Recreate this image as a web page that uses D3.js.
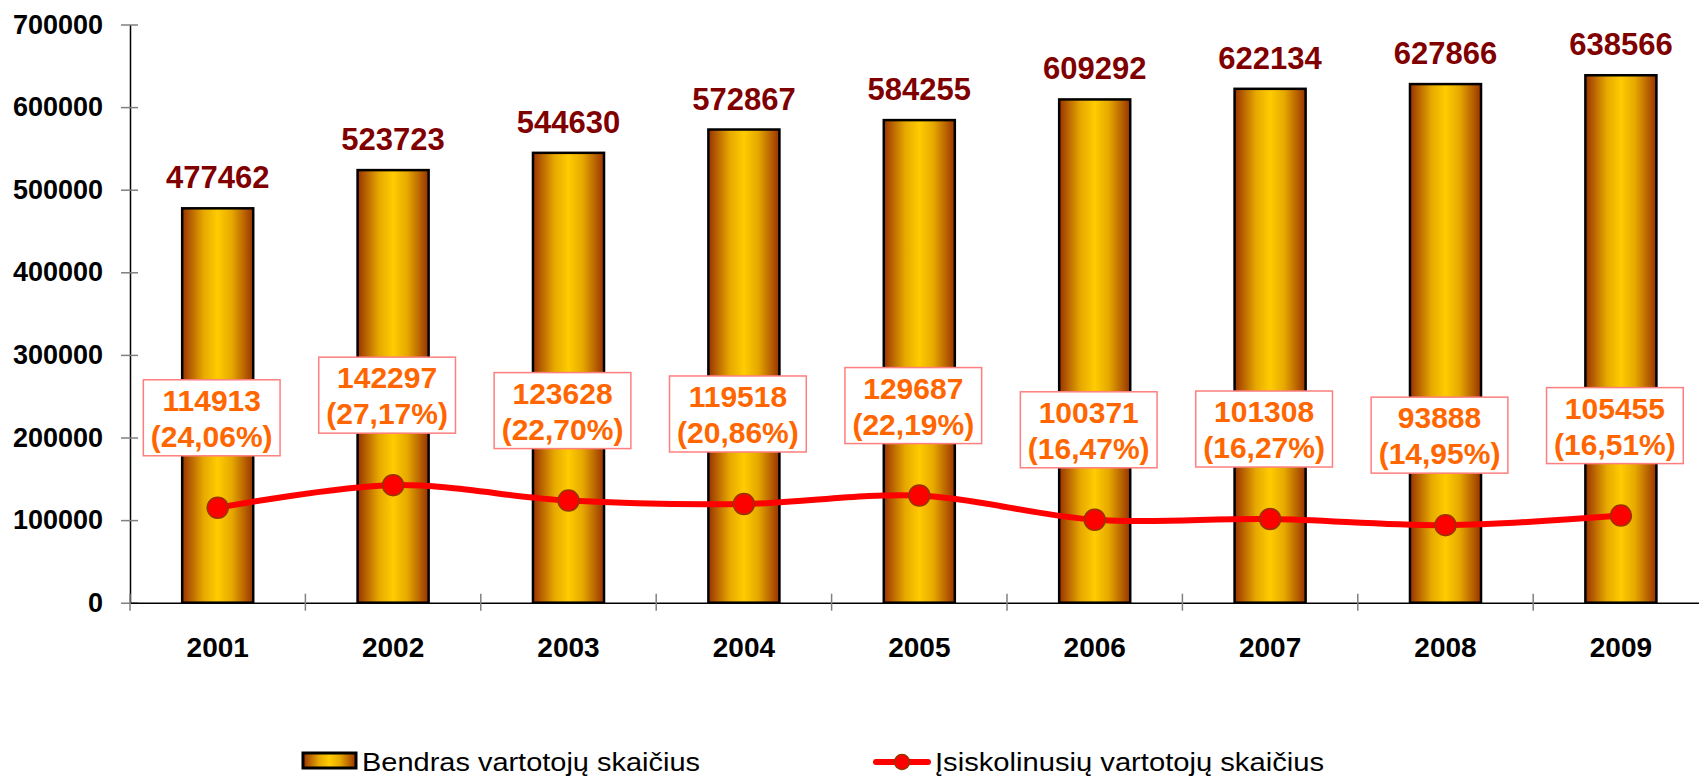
<!DOCTYPE html>
<html>
<head>
<meta charset="utf-8">
<script src="https://cdn.jsdelivr.net/npm/d3@7"></script>
<style>
  body { margin: 0; background: #fff; }
  svg { display: block; font-family: "Liberation Sans", Arial, sans-serif; }
</style>
</head>
<body>
<svg width="1699" height="777"></svg>
<script>
var years = ["2001", "2002", "2003", "2004", "2005", "2006", "2007", "2008", "2009"];
var totalUsers = [477462, 523723, 544630, 572867, 584255, 609292, 622134, 627866, 638566];
var debtUsers = [114913, 142297, 123628, 119518, 129687, 100371, 101308, 93888, 105455];
var debtShare = ["24,06%", "27,17%", "22,70%", "20,86%", "22,19%", "16,47%", "16,27%", "14,95%", "16,51%"];
var yTicks = [0, 100000, 200000, 300000, 400000, 500000, 600000, 700000];
var seriesNames = ["Bendras vartotojų skaičius", "Įsiskolinusių vartotojų skaičius"];

var svg = d3.select("svg");

var data = years.map(function(y, i) {
    return { year: y, total: totalUsers[i], debt: debtUsers[i], share: debtShare[i] };
});

var x = d3.scaleBand().domain(years).range([130, 1708.6]).paddingInner(0.595).paddingOuter(0.2975),
    y = d3.scaleLinear().domain([0, 700000]).range([602.7, 24.5]);

// gradient for the bars
var grad = svg.append("defs").append("linearGradient")
    .attr("id", "barGrad").attr("x1", "0%").attr("x2", "100%").attr("y1", "0%").attr("y2", "0%");
grad.append("stop").attr("offset", "0%").attr("stop-color", "#993300");
grad.append("stop").attr("offset", "30%").attr("stop-color", "#e6a800");
grad.append("stop").attr("offset", "50%").attr("stop-color", "#ffcc00");
grad.append("stop").attr("offset", "70%").attr("stop-color", "#e6a800");
grad.append("stop").attr("offset", "100%").attr("stop-color", "#993300");

// y axis
var yAxis = svg.append("g")
    .attr("transform", "translate(130,0)")
    .call(d3.axisLeft(y).tickValues(yTicks).tickSize(9).tickSizeOuter(0).tickPadding(18).tickFormat(d3.format("d")));
yAxis.select(".domain").attr("stroke", "#000").attr("stroke-width", 1.5);
yAxis.selectAll(".tick line").attr("x1", -9).attr("x2", 8).attr("stroke", "#808080").attr("stroke-width", 1.5);
yAxis.selectAll(".tick text").attr("font-size", "27px").attr("font-weight", "bold").attr("fill", "#000");

// x axis
var xAxis = svg.append("g")
    .attr("transform", "translate(0," + y(0) + ")")
    .call(d3.axisBottom(x).tickSize(0).tickSizeOuter(0).tickPadding(34));
xAxis.select(".domain").attr("stroke", "#000").attr("stroke-width", 1.5);
xAxis.selectAll(".tick text").attr("font-size", "28px").attr("font-weight", "bold").attr("fill", "#000");

var bounds = years.map(function(d) { return x(d) + x.bandwidth() / 2 - x.step() / 2; });
bounds.push(bounds[bounds.length - 1] + x.step());
xAxis.selectAll(".sep")
    .data(bounds)
    .enter().append("line")
    .attr("x1", function(d) { return d; })
    .attr("x2", function(d) { return d; })
    .attr("y1", -9).attr("y2", 8)
    .attr("stroke", "#808080").attr("stroke-width", 1.5);

// bars
svg.selectAll(".bar")
    .data(data)
    .enter().append("rect")
    .attr("class", "bar")
    .attr("x", function(d) { return x(d.year); })
    .attr("y", function(d) { return y(d.total); })
    .attr("width", x.bandwidth())
    .attr("height", function(d) { return y(0) - y(d.total); })
    .attr("fill", "url(#barGrad)")
    .attr("stroke", "#000")
    .attr("stroke-width", 2.5);

svg.selectAll(".barLabel")
    .data(data)
    .enter().append("text")
    .attr("class", "barLabel")
    .attr("x", function(d) { return x(d.year) + x.bandwidth() / 2; })
    .attr("y", function(d) { return y(d.total) - 20; })
    .attr("text-anchor", "middle")
    .attr("font-size", "31px")
    .attr("font-weight", "bold")
    .attr("fill", "#800000")
    .text(function(d) { return d.total; });

// line
var cx = function(d) { return x(d.year) + x.bandwidth() / 2; };
var line = d3.line()
    .x(cx)
    .y(function(d) { return y(d.debt); })
    .curve(d3.curveCatmullRom.alpha(0.5));

svg.append("path")
    .datum(data)
    .attr("d", line)
    .attr("fill", "none")
    .attr("stroke", "#ff0000")
    .attr("stroke-width", 6);

svg.selectAll(".dot")
    .data(data)
    .enter().append("circle")
    .attr("cx", cx)
    .attr("cy", function(d) { return y(d.debt); })
    .attr("r", 10.5)
    .attr("fill", "#ff0000")
    .attr("stroke", "#993300")
    .attr("stroke-width", 1.5);

// line labels in boxes
var lbl = svg.selectAll(".lineLabel")
    .data(data)
    .enter().append("g")
    .attr("class", "lineLabel")
    .attr("transform", function(d) { return "translate(" + (cx(d) - 6) + "," + (y(d.debt) - 52) + ")"; });

lbl.each(function(d) {
    var g = d3.select(this);
    var rect = g.append("rect");
    var t = g.append("text")
        .attr("text-anchor", "middle")
        .attr("font-size", "30px")
        .attr("font-weight", "bold")
        .attr("fill", "#ff6600");
    t.append("tspan").attr("x", 0).attr("y", -45).text(d.debt);
    t.append("tspan").attr("x", 0).attr("y", -9).text("(" + d.share + ")");
    var w = t.node().getBBox().width + 15;
    rect.attr("x", -w / 2).attr("y", -76).attr("width", w).attr("height", 76)
        .attr("fill", "#fff").attr("stroke", "#ff7f7f").attr("stroke-width", 1.5);
});

// legend
var leg = svg.append("g");
leg.append("rect")
    .attr("x", 303).attr("y", 753).attr("width", 53).attr("height", 15)
    .attr("fill", "url(#barGrad)").attr("stroke", "#000").attr("stroke-width", 3);
leg.append("text")
    .attr("x", 362).attr("y", 771)
    .attr("font-size", "26px").attr("fill", "#000")
    .attr("textLength", 338).attr("lengthAdjust", "spacingAndGlyphs")
    .text(seriesNames[0]);

leg.append("line")
    .attr("x1", 876).attr("x2", 928).attr("y1", 762).attr("y2", 762)
    .attr("stroke", "#ff0000").attr("stroke-width", 6).attr("stroke-linecap", "round");
leg.append("circle")
    .attr("cx", 902).attr("cy", 762).attr("r", 7.5)
    .attr("fill", "#ff0000").attr("stroke", "#993300").attr("stroke-width", 1.5);
leg.append("text")
    .attr("x", 935).attr("y", 771)
    .attr("font-size", "26px").attr("fill", "#000")
    .attr("textLength", 389).attr("lengthAdjust", "spacingAndGlyphs")
    .text(seriesNames[1]);
</script>
</body>
</html>
